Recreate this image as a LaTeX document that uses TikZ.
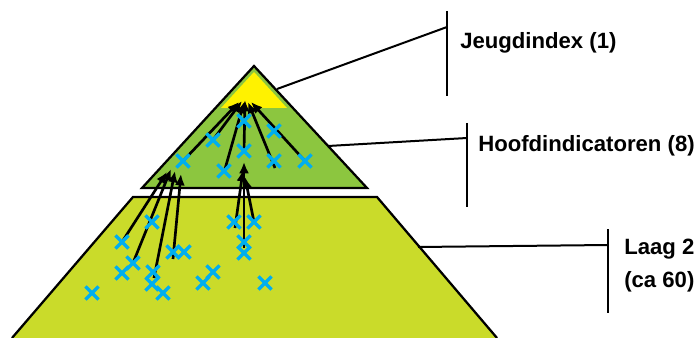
\documentclass[tikz,border=0pt]{standalone}
\usepackage{fontspec}
\setmainfont{Liberation Sans}
\usetikzlibrary{arrows.meta,shapes.misc}
\definecolor{topgreen}{HTML}{8CC63F}
\definecolor{topyellow}{HTML}{FFF200}
\definecolor{basegreen}{HTML}{CADB2A}
\definecolor{xcyan}{HTML}{00AEEF}
\pgfdeclarelayer{fg}
\pgfsetlayers{main,fg}
\begin{document}
\begin{tikzpicture}[x=0.75pt,y=-0.75pt,
  outline/.style={draw=black,line width=1.7pt,line join=miter},
  xmark/.style={cross out,draw=xcyan,line width=2.4pt,minimum size=7.5pt,inner sep=0pt},
  arr/.style={line width=2pt,-{Latex[length=8.5pt,width=7.5pt]}},
  lbl/.style={line width=1.5pt},
  lbltext/.style={font=\fontsize{16.6}{20}\selectfont\bfseries,anchor=base west,inner sep=0pt}]
\useasboundingbox (0,0) rectangle (698,338);
% shapes
\fill[basegreen] (133,197) -- (377,197) -- (497,338) -- (12,338) -- cycle;
\draw[outline] (12,338) -- (133,197) -- (377,197) -- (497,338);
\fill[topgreen] (254,66) -- (367,188) -- (142,188) -- cycle;
\fill[topyellow] (254,72) -- (287,108) -- (221,108) -- cycle;
\draw[outline] (254,66) -- (367,188) -- (142,188) -- cycle;
% crosses
\begin{pgfonlayer}{fg}
\node[xmark] (t1) at (244,121) {};
\node[xmark] (t2) at (274,131) {};
\node[xmark] (t3) at (213,140) {};
\node[xmark] (t4) at (244,151) {};
\node[xmark] (t5) at (183,161) {};
\node[xmark] (t6) at (274,161) {};
\node[xmark] (t7) at (305,161) {};
\node[xmark] (t8) at (224,171) {};
\node[xmark] (b1) at (152,222) {};
\node[xmark] (b2) at (234,222) {};
\node[xmark] (b3) at (254,222) {};
\node[xmark] (b4) at (122,242) {};
\node[xmark] (b5) at (244,242) {};
\node[xmark] (b6) at (173,252) {};
\node[xmark] (b7) at (184,252) {};
\node[xmark] (b8) at (244,253) {};
\node[xmark] (b9) at (133,263) {};
\node[xmark] (b10) at (122,273) {};
\node[xmark] (b11) at (153,272) {};
\node[xmark] (b12) at (213,272) {};
\node[xmark] (b13) at (152,284) {};
\node[xmark] (b14) at (203,283) {};
\node[xmark] (b15) at (265,283) {};
\node[xmark] (b16) at (92,293) {};
\node[xmark] (b17) at (163,293) {};
\end{pgfonlayer}
% arrow ends
\coordinate (e1) at (239,102);
\coordinate (e2) at (242,101);
\coordinate (e3) at (244,102);
\coordinate (e4) at (245,100);
\coordinate (e5) at (248,102);
\coordinate (e6) at (251,102);
\coordinate (s3) at (225,169);
\coordinate (s5) at (275,168);
\coordinate (l1) at (167,172);
\coordinate (l2) at (171,169);
\coordinate (l3) at (175,171);
\coordinate (l4) at (181,174);
\coordinate (sb3) at (154,278);
\coordinate (sb4) at (173,259);
\coordinate (m1) at (243,170);
\coordinate (m2) at (244,162);
\coordinate (m3) at (245,177);
\coordinate (sm1) at (235,228);
\coordinate (sm2) at (244,248);
% top arrows
\draw[arr] (t5.center) -- (e1);
\draw[arr] (t3.center) -- (e2);
\draw[arr] (s3) -- (e3);
\draw[arr] (t4.center) -- (e4);
\draw[arr] (s5) -- (e5);
\draw[arr] (t7.center) -- (e6);
% left cluster
\draw[arr] (b4.center) -- (l1);
\draw[arr] (b9.center) -- (l2);
\draw[arr] (sb3) -- (l3);
\draw[arr] (sb4) -- (l4);
% center cluster
\draw[arr] (sm1) -- (m1);
\draw[arr] (sm2) -- (m2);
\draw[arr] (b3.center) -- (m3);
% labels
\coordinate (p1) at (277,89);
\coordinate (q1) at (447,27);
\coordinate (u1) at (447,11);
\coordinate (d1) at (447,96);
\draw[lbl] (p1) -- (q1);
\draw[lbl] (u1) -- (d1);
\node[lbltext] (jeugd) at (460,49) {Jeugdindex (1)};
\coordinate (p2) at (328,146);
\coordinate (q2) at (467,138);
\coordinate (u2) at (467,123);
\coordinate (d2) at (467,207);
\draw[lbl] (p2) -- (q2);
\draw[lbl] (u2) -- (d2);
\node[lbltext] (hoofd) at (478,152) {Hoofdindicatoren (8)};
\coordinate (p3) at (418,247);
\coordinate (q3) at (608,245);
\coordinate (u3) at (608,229);
\coordinate (d3) at (608,313);
\draw[lbl] (p3) -- (q3);
\draw[lbl] (u3) -- (d3);
\node[lbltext] (laag) at (624,254) {Laag 2};
\node[lbltext] (ca) at (624,287) {(ca 60)};
\end{tikzpicture}
\end{document}
